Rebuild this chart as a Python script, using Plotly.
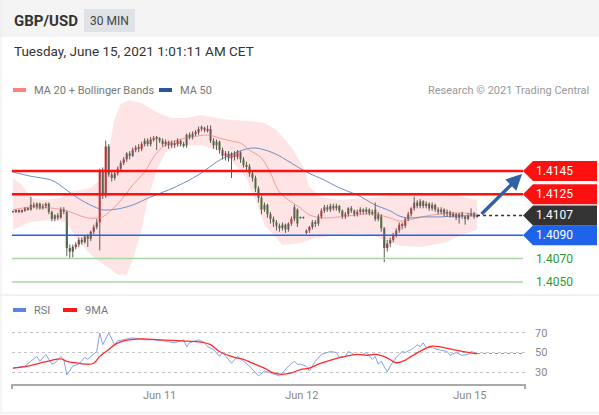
import plotly.graph_objects as go

W, H = 599, 415

# 30 min GBP/USD bars, Jun 10 -> Jun 15 2021 (bar index on the x axis)
OPEN = [1.4110, 1.4110, 1.4111, 1.4110, 1.4111, 1.4113, 1.4112, 1.4116, 1.4114, 1.4117,
        1.4113, 1.4115, 1.4117, 1.4110, 1.4104, 1.4107, 1.4105, 1.4112, 1.4110, 1.4079,
        1.4076, 1.4080, 1.4082, 1.4086, 1.4084, 1.4089, 1.4087, 1.4093, 1.4097, 1.4101,
        1.4146, 1.4124, 1.4166, 1.4142, 1.4139, 1.4143, 1.4147, 1.4152, 1.4155, 1.4160,
        1.4158, 1.4163, 1.4165, 1.4164, 1.4168, 1.4171, 1.4168, 1.4172, 1.4173, 1.4173,
        1.4171, 1.4168, 1.4170, 1.4167, 1.4169, 1.4168, 1.4171, 1.4168, 1.4167, 1.4176,
        1.4174, 1.4177, 1.4178, 1.4181, 1.4182, 1.4180, 1.4181, 1.4171, 1.4167, 1.4170,
        1.4163, 1.4158, 1.4160, 1.4156, 1.4160, 1.4157, 1.4161, 1.4155, 1.4150, 1.4149,
        1.4143, 1.4139, 1.4130, 1.4122, 1.4112, 1.4116, 1.4108, 1.4104, 1.4101, 1.4098,
        1.4096, 1.4099, 1.4095, 1.4100, 1.4104, 1.4112, 1.4105, 1.4105, 1.4092, 1.4094,
        1.4097, 1.4101, 1.4100, 1.4106, 1.4111, 1.4114, 1.4112, 1.4115, 1.4113, 1.4115,
        1.4111, 1.4106, 1.4108, 1.4113, 1.4111, 1.4108, 1.4110, 1.4112, 1.4110, 1.4112,
        1.4109, 1.4112, 1.4104, 1.4106, 1.4096, 1.4079, 1.4083, 1.4086, 1.4090, 1.4094,
        1.4099, 1.4098, 1.4104, 1.4108, 1.4113, 1.4118, 1.4115, 1.4119, 1.4115, 1.4117,
        1.4113, 1.4116, 1.4112, 1.4110, 1.4112, 1.4108, 1.4110, 1.4107, 1.4108, 1.4105,
        1.4108, 1.4106, 1.4104, 1.4107, 1.4109, 1.4106]
HIGH = [1.4111, 1.4112, 1.4112, 1.4112, 1.4114, 1.4114, 1.4123, 1.4118, 1.4118, 1.4118,
        1.4117, 1.4118, 1.4118, 1.4111, 1.4108, 1.4109, 1.4114, 1.4114, 1.4111, 1.4082,
        1.4082, 1.4084, 1.4088, 1.4088, 1.4090, 1.4091, 1.4094, 1.4099, 1.4104, 1.4147,
        1.4148, 1.4171, 1.4168, 1.4144, 1.4145, 1.4149, 1.4154, 1.4157, 1.4161, 1.4162,
        1.4165, 1.4167, 1.4168, 1.4170, 1.4173, 1.4173, 1.4174, 1.4175, 1.4175, 1.4174,
        1.4173, 1.4172, 1.4171, 1.4171, 1.4171, 1.4173, 1.4172, 1.4170, 1.4177, 1.4178,
        1.4179, 1.4180, 1.4183, 1.4184, 1.4183, 1.4184, 1.4184, 1.4173, 1.4172, 1.4171,
        1.4165, 1.4162, 1.4162, 1.4161, 1.4162, 1.4163, 1.4162, 1.4157, 1.4153, 1.4151,
        1.4145, 1.4141, 1.4132, 1.4124, 1.4118, 1.4117, 1.4110, 1.4106, 1.4103, 1.4100,
        1.4101, 1.4100, 1.4101, 1.4106, 1.4116, 1.4113, 1.4106, 1.4106, 1.4095, 1.4098,
        1.4103, 1.4103, 1.4108, 1.4113, 1.4116, 1.4116, 1.4117, 1.4117, 1.4117, 1.4116,
        1.4112, 1.4110, 1.4114, 1.4115, 1.4112, 1.4112, 1.4114, 1.4113, 1.4114, 1.4113,
        1.4112, 1.4118, 1.4110, 1.4108, 1.4097, 1.4086, 1.4088, 1.4092, 1.4096, 1.4101,
        1.4101, 1.4105, 1.4110, 1.4114, 1.4123, 1.4120, 1.4121, 1.4120, 1.4119, 1.4118,
        1.4118, 1.4117, 1.4114, 1.4114, 1.4113, 1.4112, 1.4111, 1.4110, 1.4109, 1.4109,
        1.4110, 1.4107, 1.4109, 1.4113, 1.4110, 1.4108]
LOW = [1.4109, 1.4109, 1.4109, 1.4109, 1.4110, 1.4111, 1.4111, 1.4113, 1.4112, 1.4112,
       1.4112, 1.4113, 1.4108, 1.4102, 1.4102, 1.4103, 1.4104, 1.4108, 1.4072, 1.4070,
       1.4071, 1.4078, 1.4080, 1.4082, 1.4083, 1.4080, 1.4085, 1.4091, 1.4095, 1.4077,
       1.4121, 1.4122, 1.4140, 1.4136, 1.4137, 1.4141, 1.4145, 1.4150, 1.4153, 1.4155,
       1.4157, 1.4161, 1.4161, 1.4162, 1.4166, 1.4166, 1.4166, 1.4170, 1.4163, 1.4169,
       1.4166, 1.4166, 1.4164, 1.4165, 1.4165, 1.4166, 1.4166, 1.4165, 1.4165, 1.4172,
       1.4172, 1.4175, 1.4176, 1.4179, 1.4178, 1.4178, 1.4169, 1.4164, 1.4163, 1.4160,
       1.4155, 1.4154, 1.4153, 1.4139, 1.4154, 1.4155, 1.4152, 1.4148, 1.4146, 1.4140,
       1.4136, 1.4127, 1.4118, 1.4108, 1.4110, 1.4105, 1.4100, 1.4097, 1.4094, 1.4093,
       1.4094, 1.4092, 1.4093, 1.4098, 1.4102, 1.4097, 1.4104, 1.4104, 1.4091, 1.4092,
       1.4095, 1.4097, 1.4098, 1.4104, 1.4109, 1.4110, 1.4110, 1.4111, 1.4111, 1.4109,
       1.4104, 1.4104, 1.4106, 1.4109, 1.4106, 1.4106, 1.4108, 1.4108, 1.4108, 1.4107,
       1.4107, 1.4102, 1.4102, 1.4093, 1.4067, 1.4076, 1.4080, 1.4084, 1.4088, 1.4092,
       1.4095, 1.4096, 1.4102, 1.4106, 1.4111, 1.4113, 1.4113, 1.4113, 1.4113, 1.4111,
       1.4111, 1.4110, 1.4108, 1.4108, 1.4106, 1.4106, 1.4105, 1.4105, 1.4103, 1.4100,
       1.4104, 1.4099, 1.4103, 1.4106, 1.4104, 1.4105]
CLOSE = [1.4110, 1.4111, 1.4110, 1.4111, 1.4113, 1.4112, 1.4116, 1.4114, 1.4117, 1.4113,
         1.4115, 1.4117, 1.4110, 1.4104, 1.4107, 1.4105, 1.4112, 1.4110, 1.4079, 1.4076,
         1.4080, 1.4082, 1.4086, 1.4084, 1.4089, 1.4087, 1.4093, 1.4097, 1.4101, 1.4146,
         1.4124, 1.4166, 1.4142, 1.4139, 1.4143, 1.4147, 1.4152, 1.4155, 1.4160, 1.4158,
         1.4163, 1.4165, 1.4164, 1.4168, 1.4171, 1.4168, 1.4172, 1.4173, 1.4173, 1.4171,
         1.4168, 1.4170, 1.4167, 1.4169, 1.4168, 1.4171, 1.4168, 1.4167, 1.4176, 1.4174,
         1.4177, 1.4178, 1.4181, 1.4182, 1.4180, 1.4181, 1.4171, 1.4167, 1.4170, 1.4163,
         1.4158, 1.4160, 1.4156, 1.4160, 1.4157, 1.4161, 1.4155, 1.4150, 1.4149, 1.4143,
         1.4139, 1.4130, 1.4122, 1.4112, 1.4116, 1.4108, 1.4104, 1.4101, 1.4098, 1.4096,
         1.4099, 1.4095, 1.4100, 1.4104, 1.4114, 1.4100, 1.4105, 1.4105, 1.4094, 1.4097,
         1.4101, 1.4100, 1.4106, 1.4111, 1.4114, 1.4112, 1.4115, 1.4113, 1.4115, 1.4111,
         1.4106, 1.4108, 1.4113, 1.4111, 1.4108, 1.4110, 1.4112, 1.4110, 1.4112, 1.4109,
         1.4110, 1.4104, 1.4108, 1.4096, 1.4079, 1.4083, 1.4086, 1.4090, 1.4094, 1.4099,
         1.4098, 1.4104, 1.4108, 1.4113, 1.4118, 1.4115, 1.4119, 1.4115, 1.4117, 1.4113,
         1.4116, 1.4112, 1.4110, 1.4112, 1.4108, 1.4110, 1.4107, 1.4108, 1.4105, 1.4108,
         1.4106, 1.4104, 1.4107, 1.4109, 1.4106, 1.4107]

# moving averages and bollinger bands, read at bar positions
MA20_X = [0, 6, 12, 17, 20, 25, 28, 30, 34, 37, 40, 44, 47, 50, 55, 60, 65, 69, 73,
          76, 79, 83, 86, 89, 93, 96, 99, 104, 109, 115, 120, 126, 129, 134, 138, 143, 148, 155]
MA20 = [1.41117, 1.41142, 1.41134, 1.41117, 1.41091, 1.41048, 1.41048, 1.41057, 1.41142,
        1.41228, 1.4133, 1.41441, 1.4157, 1.41655, 1.41715, 1.41741, 1.41758, 1.41732,
        1.41706, 1.41689, 1.41629, 1.41561, 1.41433, 1.4127, 1.41185, 1.41134, 1.41074,
        1.41048, 1.41057, 1.41074, 1.41083, 1.41048, 1.41022, 1.4104, 1.41065, 1.41083,
        1.41091, 1.41083]
MA50_X = [0, 6, 13, 17, 19, 23, 28, 30, 35, 40, 46, 52, 57, 63, 68, 74, 78, 81, 87, 93,
          98, 104, 109, 115, 121, 126, 129, 132, 137, 143, 148, 155]
MA50 = [1.41441, 1.41405, 1.4137, 1.41305, 1.41266, 1.41198, 1.41134, 1.41117, 1.41125,
        1.41159, 1.41228, 1.41288, 1.41347, 1.41433, 1.41527, 1.41604, 1.41638, 1.41647,
        1.41604, 1.41518, 1.41441, 1.41373, 1.41305, 1.41245, 1.41159, 1.41108, 1.41065,
        1.41048, 1.41057, 1.41057, 1.41065, 1.41065]
BB_UP_X = [0, 3, 6, 11, 16, 19, 26, 29, 31, 32, 34, 36, 39, 43, 48, 53, 58, 63, 68, 73, 79,
           84, 88, 93, 97, 99, 103, 109, 119, 129, 143, 149, 155]
BB_UP = [1.4139, 1.4133, 1.41219, 1.41202, 1.41219, 1.4127, 1.41305, 1.41373, 1.41510,
         1.41629, 1.41903, 1.42023, 1.42057, 1.42031, 1.41954, 1.41903, 1.41903, 1.41929,
         1.41903, 1.41886, 1.41878, 1.4186, 1.41801, 1.41655, 1.41484, 1.41313, 1.41228,
         1.41202, 1.41219, 1.41245, 1.41262, 1.41236, 1.41202]
BB_LO_X = [0, 6, 13, 18, 21, 26, 29, 33, 35, 38, 40, 43, 45, 48, 51, 56, 63, 68, 73, 78,
           81, 84, 90, 96, 101, 106, 116, 121, 124, 129, 136, 144, 149, 155]
BB_LO = [1.40946, 1.41014, 1.41031, 1.41014, 1.40877, 1.40732, 1.40672, 1.40604, 1.40561,
         1.40561, 1.40689, 1.40946, 1.41202, 1.41459, 1.41612, 1.41664, 1.41672, 1.4163,
         1.41544, 1.4139, 1.41202, 1.40988, 1.40817, 1.40834, 1.40877, 1.40894, 1.40911,
         1.40894, 1.4086, 1.40809, 1.408, 1.40834, 1.40894, 1.40946]

# RSI panel
RSI_X = [0, 4, 6, 8, 9, 11, 13, 14, 16, 17, 18, 20, 22, 24, 25, 27, 28, 29, 30, 32,
         34, 35, 37, 40, 44, 47, 50, 54, 57, 58, 59, 62, 64, 65, 67, 69, 70, 72, 73, 75,
         77, 79, 82, 84, 86, 89, 90, 92, 94, 95, 96, 98, 99, 101, 103, 106, 108, 109, 111, 112,
         114, 117, 118, 119, 120, 121, 122, 123, 125, 126, 128, 130, 131, 133, 134, 135, 136, 137, 138, 140,
         142, 145, 146, 148, 150, 152, 153, 155]
RSI = [34, 36, 41, 46, 41, 48, 38, 39, 46, 43, 27, 36, 38, 45, 43, 48, 51, 70, 58, 70,
       58, 62, 63, 65, 63, 63, 62, 60, 63, 56, 60, 63, 60, 56, 53, 46, 50, 43, 39, 46,
       41, 36, 26, 31, 29, 26, 29, 36, 41, 38, 38, 36, 31, 41, 48, 51, 50, 45, 46, 51,
       48, 48, 50, 46, 43, 46, 38, 41, 30, 36, 45, 51, 50, 53, 55, 58, 56, 60, 55, 55,
       53, 51, 47, 50, 47, 48, 51, 49]
MA9_X = [0, 5, 9, 13, 16, 18, 22, 25, 27, 29, 32, 34, 37, 43, 49, 56, 63, 66, 69, 74,
         77, 80, 84, 87, 90, 93, 96, 99, 102, 107, 111, 115, 118, 121, 125, 128, 131, 133, 137, 140,
         143, 147, 151, 155]
MA9 = [34, 36, 39, 42, 43.5, 41, 39, 38, 39, 46, 53, 58, 62, 64, 63, 62, 60.6, 58, 51, 45,
       43, 39, 34, 29, 27.5, 29, 32.5, 34, 38, 43, 46, 48, 47, 48, 44.5, 39.5, 42, 46, 53, 56.5,
       55.5, 53, 50.7, 48.6]

LEVELS = [1.4145, 1.4125, 1.4107, 1.4090, 1.4070, 1.4050]
LEVEL_TEXT = ["1.4145", "1.4125", "1.4107", "1.4090", "1.4070", "1.4050"]
LEVEL_COLORS = ["#ff1010", "#ff1010", "#333333", "#1f63ea", "#a8d6a0", "#a8d6a0"]
RSI_LEVELS = [30, 50, 70]
TICK_POS = [49, 96.5, 152.6]
TICK_TEXT = ["Jun 11", "Jun 12", "Jun 15"]

X_RANGE = [-0.3, 171]
Y_RANGE = [1.40414, 1.42075]
RSI_RANGE = [17.7, 83.3]

FONT = "Roboto, Arial, sans-serif"


def px(x):
    return x / W


def py(y):
    return (H - y) / H


bars = list(range(len(CLOSE)))
fig = go.Figure()

# bollinger band as one closed shape
fig.add_trace(go.Scatter(
    x=BB_UP_X + BB_LO_X[::-1], y=BB_UP + BB_LO[::-1],
    mode='lines', fill='toself', fillcolor='rgba(250,150,150,0.26)',
    line=dict(width=0), hoverinfo='skip'))
fig.add_trace(go.Scatter(x=MA20_X, y=MA20, mode='lines',
                         line=dict(color='#f59a9a', width=1, shape='spline')))
fig.add_trace(go.Scatter(x=MA50_X, y=MA50, mode='lines',
                         line=dict(color='#6f8ec6', width=1, shape='spline')))

# candles: grey wicks, then coloured bodies (red = up, green = down)
wick_x, wick_y = [], []
for i in bars:
    wick_x += [i, i, None]
    wick_y += [LOW[i], HIGH[i], None]
fig.add_trace(go.Scatter(x=wick_x, y=wick_y, mode='lines',
                         line=dict(color='#5c5c5c', width=1), hoverinfo='skip'))

body_base = [min(o, c) for o, c in zip(OPEN, CLOSE)]
body_len = [max(abs(c - o), 0.00003) for o, c in zip(OPEN, CLOSE)]
body_col = ['#c8262c' if c > o else ('#2d7a2d' if c < o else '#555555')
            for o, c in zip(OPEN, CLOSE)]
fig.add_trace(go.Bar(x=bars, y=body_len, base=body_base, width=0.72,
                     marker=dict(color=body_col, line=dict(width=0))))

# RSI panel
fig.add_trace(go.Scatter(x=RSI_X, y=RSI, mode='lines', xaxis='x2', yaxis='y2',
                         line=dict(color='#86a2ee', width=1)))
fig.add_trace(go.Scatter(x=MA9_X, y=MA9, mode='lines', xaxis='x2', yaxis='y2',
                         line=dict(color='#ff2a2a', width=1.3, shape='spline')))

shapes = [
    # frame, header and separators
    dict(type='rect', xref='paper', yref='paper', x0=0, x1=1, y0=py(37), y1=1,
         fillcolor='#f4f4f4', line=dict(width=0), layer='below'),
    dict(type='rect', xref='paper', yref='paper', x0=px(84), x1=px(135), y0=py(32), y1=py(9),
         fillcolor='#dfe2e7', line=dict(width=0)),
    dict(type='line', xref='paper', yref='paper', x0=0, x1=1, y0=py(295), y1=py(295),
         line=dict(color='#e6e6e6', width=1)),
    dict(type='line', xref='paper', yref='paper', x0=0, x1=1, y0=py(413), y1=py(413),
         line=dict(color='#e6e6e6', width=1)),
    dict(type='line', xref='paper', yref='paper', x0=px(1), x1=px(1), y0=py(0), y1=py(413),
         line=dict(color='#ececec', width=1)),
    # legend swatches
    dict(type='rect', xref='paper', yref='paper', x0=px(13), x1=px(26), y0=py(92), y1=py(88),
         fillcolor='#ff8080', line=dict(width=0)),
    dict(type='rect', xref='paper', yref='paper', x0=px(159), x1=px(172), y0=py(92), y1=py(88),
         fillcolor='#2f5597', line=dict(width=0)),
    dict(type='rect', xref='paper', yref='paper', x0=px(13), x1=px(26), y0=py(312), y1=py(308),
         fillcolor='#5b84e6', line=dict(width=0)),
    dict(type='rect', xref='paper', yref='paper', x0=px(63), x1=px(77), y0=py(312), y1=py(308),
         fillcolor='#ff1a1a', line=dict(width=0)),
    # end ticks of the time axis
    dict(type='line', xref='x2 domain', yref='paper', x0=0, x1=0, y0=py(384), y1=py(389),
         line=dict(color='#aaaaaa', width=2)),
    dict(type='line', xref='x2 domain', yref='paper', x0=1, x1=1, y0=py(384), y1=py(389),
         line=dict(color='#aaaaaa', width=2)),
    # current RSI extended
    dict(type='line', xref='x2', yref='y2', x0=RSI_X[-1], x1=X_RANGE[1], y0=RSI[-1], y1=RSI[-1],
         line=dict(color='#6e8fe8', width=1, dash='dot')),
]

# support / resistance levels and their tags
half = 10 * (Y_RANGE[1] - Y_RANGE[0]) / 194
for lvl, txt, col in zip(LEVELS, LEVEL_TEXT, LEVEL_COLORS):
    if txt == "1.4107":
        shapes.append(dict(type='line', xref='x', yref='y', x0=bars[-1], x1=X_RANGE[1],
                           y0=lvl, y1=lvl, line=dict(color=col, width=1.5, dash='dot')))
    else:
        w = 2.5 if col == "#ff1010" else 1.5
        shapes.append(dict(type='line', xref='x domain', yref='y', x0=0, x1=0.996,
                           y0=lvl, y1=lvl, line=dict(color=col, width=w)))
    if col == "#a8d6a0":
        continue
    path = (f"M {px(523)},{lvl} L {px(533)},{lvl + half} L {px(597)},{lvl + half} "
            f"L {px(597)},{lvl - half} L {px(533)},{lvl - half} Z")
    shapes.append(dict(type='path', xref='paper', yref='y', path=path,
                       fillcolor=col, line=dict(width=0)))

annotations = [
    dict(text="<b>GBP/USD</b>", x=px(12), y=py(21), font=dict(size=15, color='#333')),
    dict(text="30 MIN", x=px(110), y=py(21), xanchor='center', font=dict(size=12, color='#444')),
    dict(text="Tuesday, June 15, 2021 1:01:11 AM CET", x=px(12), y=py(51),
         font=dict(size=13.5, color='#333')),
    dict(text="MA 20 + Bollinger Bands", x=px(32), y=py(90), font=dict(size=11, color='#777')),
    dict(text="MA 50", x=px(178), y=py(90), font=dict(size=11, color='#777')),
    dict(text="Research © 2021 Trading Central", x=px(591), y=py(90), xanchor='right',
         font=dict(size=11, color='#999')),
    dict(text="RSI", x=px(32), y=py(310), font=dict(size=11, color='#777')),
    dict(text="9MA", x=px(83), y=py(310), font=dict(size=11, color='#777')),
]
for a in annotations:
    a.update(xref='paper', yref='paper', showarrow=False, yanchor='middle')
    a.setdefault('xanchor', 'left')

for lvl, txt, col in zip(LEVELS, LEVEL_TEXT, LEVEL_COLORS):
    green = col == "#a8d6a0"
    annotations.append(dict(text=txt, xref='paper', yref='y', x=px(534), y=lvl,
                            xanchor='left', yanchor='middle', showarrow=False,
                            font=dict(size=12, color='#2e9a2e' if green else 'white')))

# projected move towards the resistance
annotations.append(dict(text='', xref='x', yref='y', axref='x', ayref='y',
                        x=170, y=LEVELS[0] - 0.00026, ax=bars[-1] + 1, ay=CLOSE[-1],
                        showarrow=True, arrowhead=2, arrowsize=0.9, arrowwidth=3.5,
                        arrowcolor='#2f61a3'))

fig.update_layout(
    width=W, height=H,
    margin=dict(l=0, r=0, t=0, b=0),
    paper_bgcolor='white', plot_bgcolor='white',
    showlegend=False,
    font=dict(family=FONT, color='#555'),
    xaxis=dict(domain=[px(12), px(525)], range=X_RANGE, visible=False, anchor='y'),
    yaxis=dict(domain=[py(292), py(98)], range=Y_RANGE, visible=False, anchor='x'),
    xaxis2=dict(domain=[px(12), px(525)], range=X_RANGE, anchor='y2', showline=True,
                linecolor='#aaaaaa', linewidth=2, tickvals=TICK_POS, ticktext=TICK_TEXT,
                ticks='', showgrid=False, zeroline=False,
                tickfont=dict(size=11, color='#888')),
    yaxis2=dict(domain=[py(384), py(320)], range=RSI_RANGE, anchor='x2', side='right',
                tickvals=RSI_LEVELS, showgrid=True, gridcolor='#c4c4c4', griddash='dot',
                zeroline=False, showline=False, ticks='', ticklabelstandoff=9,
                tickfont=dict(size=11, color='#888')),
    shapes=shapes,
    annotations=annotations,
)

# the page body has a default 8px margin; drop it so the chart sits at 0,0
fig.write_html("out.html", config={'displayModeBar': False},
               post_script="document.body.style.margin='0';")
